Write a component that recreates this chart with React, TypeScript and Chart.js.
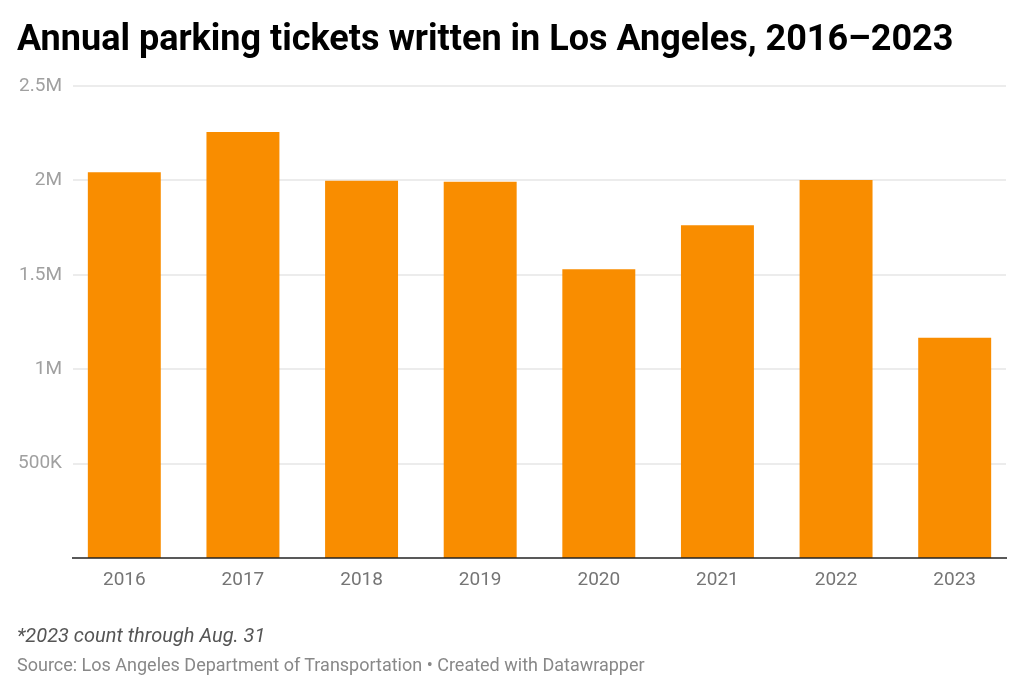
import React, { useEffect, useRef } from "react";
import { Chart, registerables } from "chart.js";

Chart.register(...registerables);

const TITLE = "Annual parking tickets written in Los Angeles, 2016–2023";
const NOTE = "*2023 count through Aug. 31";
const SOURCE = "Source: Los Angeles Department of Transportation • Created with Datawrapper";

const years = ["2016", "2017", "2018", "2019", "2020", "2021", "2022", "2023"];
const tickets = [2043000, 2256000, 1998000, 1993000, 1529000, 1762000, 2002000, 1167000];
const yTicks = [0, 500000, 1000000, 1500000, 2000000, 2500000];
const yTickLabels = ["", "500K", "1M", "1.5M", "2M", "2.5M"];

const BAR = "#f98d00";

const gridPlugin = {
  id: "dwGrid",
  beforeDatasetsDraw(chart: any) {
    const { ctx, scales } = chart;
    const y = scales.y;
    const x0 = 73;
    const x1 = 1006;
    ctx.save();
    ctx.strokeStyle = "#e6e6e6";
    ctx.lineWidth = 1.5;
    yTicks.forEach((v) => {
      if (v === 0) return;
      const py = Math.round(y.getPixelForValue(v));
      ctx.beginPath();
      ctx.moveTo(x0, py);
      ctx.lineTo(x1, py);
      ctx.stroke();
    });
    ctx.restore();
  },
  afterDatasetsDraw(chart: any) {
    const { ctx, scales } = chart;
    const y = scales.y;
    const py = Math.round(y.getPixelForValue(0));
    ctx.save();
    ctx.strokeStyle = "#222222";
    ctx.lineWidth = 1.5;
    ctx.beginPath();
    ctx.moveTo(72, py);
    ctx.lineTo(1007, py);
    ctx.stroke();
    ctx.restore();
  },
};

export default function App() {
  const ref = useRef<HTMLCanvasElement | null>(null);

  useEffect(() => {
    if (!ref.current) return;
    const chart = new Chart(ref.current, {
      type: "bar",
      data: {
        labels: years,
        datasets: [
          {
            data: tickets,
            backgroundColor: BAR,
            borderWidth: 0,
            barPercentage: 0.615,
            categoryPercentage: 1,
          },
        ],
      },
      options: {
        animation: false,
        responsive: false,
        maintainAspectRatio: false,
        layout: { padding: { top: 86, right: 10, bottom: 0, left: 0 } },
        plugins: { legend: { display: false }, tooltip: { enabled: false } },
        scales: {
          x: {
            grid: { display: false, drawTicks: false },
            border: { display: false },
            ticks: {
              color: "#757575",
              font: { family: "Roboto", size: 19 },
              padding: 11,
              maxRotation: 0,
            },
            afterFit(scale: any) {
              scale.height = 136;
            },
          },
          y: {
            min: 0,
            max: 2500000,
            grid: { display: false, drawTicks: false },
            border: { display: false },
            afterBuildTicks(scale: any) {
              scale.ticks = yTicks.map((v) => ({ value: v }));
            },
            afterFit(scale: any) {
              scale.width = 65;
            },
            ticks: {
              color: "#a0a0a0",
              font: { family: "Roboto", size: 19 },
              padding: 3,
              callback: (v: any) => yTickLabels[yTicks.indexOf(Number(v))] ?? "",
            },
          },
        },
      },
      plugins: [gridPlugin],
    });
    return () => chart.destroy();
  }, []);

  return (
    <div
      style={{
        position: "fixed",
        left: 0,
        top: 0,
        width: 1024,
        height: 694,
        background: "#fff",
        fontFamily: "Roboto, sans-serif",
        overflow: "hidden",
      }}
    >
      <canvas ref={ref} width={1024} height={694} style={{ position: "absolute", left: 0, top: 0 }} />
      <div
        style={{
          position: "absolute",
          left: 17,
          top: 15,
          fontSize: 36,
          fontWeight: 700,
          color: "#000",
          whiteSpace: "nowrap",
          lineHeight: "46px",
        }}
      >
        {TITLE}
      </div>
      <div
        style={{
          position: "absolute",
          left: 17,
          top: 623,
          fontSize: 20,
          fontStyle: "italic",
          color: "#555",
          whiteSpace: "nowrap",
          lineHeight: "24px",
        }}
      >
        {NOTE}
      </div>
      <div
        style={{
          position: "absolute",
          left: 17,
          top: 654,
          fontSize: 18,
          color: "#888",
          whiteSpace: "nowrap",
          lineHeight: "22px",
        }}
      >
        {SOURCE}
      </div>
    </div>
  );
}
